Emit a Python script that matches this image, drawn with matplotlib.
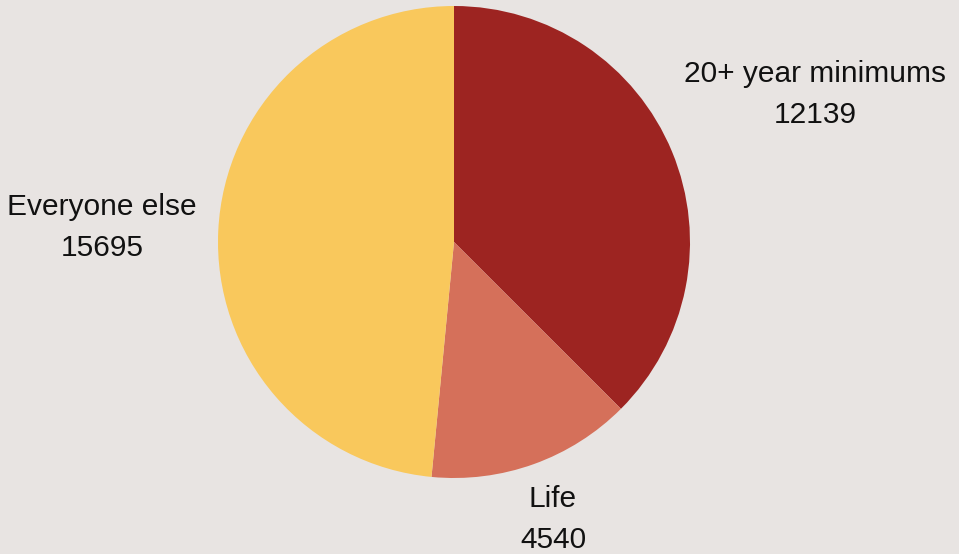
import numpy as np
import matplotlib
matplotlib.use("Agg")
import matplotlib.pyplot as plt

categories = ["20+ year minimums", "Life", "Everyone else"]
values = [12139, 4540, 15695]
colors = ["#9d2421", "#d5705a", "#f9c85c"]
label_dist = [1.655, 1.24, 1.493]

W, H = 959, 554
fig = plt.figure(figsize=(W / 100, H / 100), dpi=100)
bg = "#e8e4e2"
fig.patch.set_facecolor(bg)
ax = fig.add_axes([0, 0, 1, 1])
ax.set_facecolor(bg)

cx, cy, r = 454, H - 242, 236
wedges, _ = ax.pie(values, colors=colors, startangle=90, counterclock=False,
                   center=(cx, cy), radius=r, frame=True,
                   wedgeprops=dict(linewidth=0))
ax.set_xlim(0, W)
ax.set_ylim(0, H)
ax.axis("off")

for w, cat, val, d in zip(wedges, categories, values, label_dist):
    ang = np.deg2rad((w.theta1 + w.theta2) / 2)
    x = cx + d * r * np.cos(ang)
    y = cy + d * r * np.sin(ang) - 2
    ax.text(x, y, f"{cat}\n{val}", ha="center", va="center",
            fontsize=21.5, family="Liberation Sans", color="#111111",
            linespacing=1.6)

fig.savefig("out.png", dpi=100, facecolor=bg)
